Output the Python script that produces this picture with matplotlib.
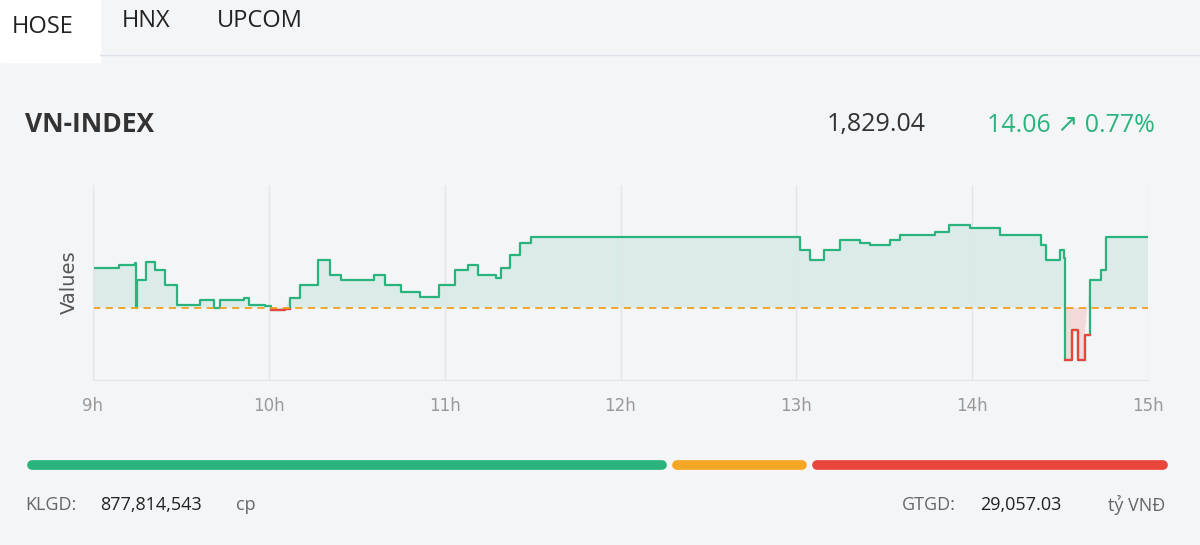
import matplotlib
matplotlib.use("Agg")
import matplotlib.pyplot as plt
import numpy as np

ref = 1814.98
last = 1829.04
change = 14.06
pct = 0.77
hours = [9.00,9.10,9.15,9.24,9.245,9.25,9.30,9.35,9.41,9.48,9.52,9.61,9.69,9.72,9.86,9.89,9.98,10.01,10.09,10.12,
         10.18,10.28,10.35,10.41,10.60,10.66,10.75,10.86,10.93,10.97,11.06,11.13,11.19,11.29,11.32,11.37,11.43,11.49,
         13.00,13.02,13.08,13.16,13.25,13.36,13.42,13.53,13.59,13.79,13.87,13.99,14.16,14.33,14.39,14.42,14.50,14.52,
         14.53,14.57,14.60,14.64,14.67,14.73,14.76,15.00]
values = [1822.9,1822.9,1823.5,1823.9,1815.0,1820.5,1824.1,1822.5,1819.5,1815.6,1815.6,1816.6,1815.0,1816.6,1817.0,1815.6,1815.4,1814.6,1814.8,1817.0,
          1819.5,1824.5,1821.5,1820.5,1821.5,1819.5,1818.1,1817.2,1817.2,1819.5,1822.5,1823.5,1821.5,1820.9,1822.9,1825.5,1827.9,1829.0,
          1829.0,1826.5,1824.5,1826.5,1828.4,1827.9,1827.5,1828.4,1829.4,1830.0,1831.4,1830.8,1829.4,1829.4,1827.5,1824.5,1826.5,1824.9,
          1804.7,1810.6,1804.7,1809.6,1820.5,1822.5,1829.0,1829.0]
xticks = [9,10,11,12,13,14,15]
xlabels = ["9h","10h","11h","12h","13h","14h","15h"]
breadth = [0.563, 0.122, 0.315]  # up / unchanged / down share of bar

bg = "#f4f5f7"
green = "#2bb37e"
red = "#e8453c"
fig = plt.figure(figsize=(12, 5.45), dpi=100, facecolor=bg)

fig.patches.append(plt.Rectangle((0, 1-62/545), 100/1200, 62/545, transform=fig.transFigure, color="white"))
fig.add_artist(plt.Line2D([100/1200, 1], [1-55/545]*2, color="#dde3ea", lw=1))
for x, t in [(12, "HOSE"), (122, "HNX"), (217, "UPCOM")]:
    fig.text(x/1200, 1-(27 if t=="HOSE" else 21)/545, t, fontsize=17, va="center", color="#222", family="Open Sans")
fig.text(25/1200, 1-125/545, "VN-INDEX", fontsize=19, fontweight="bold", va="center", color="#333", family="Open Sans")
fig.text(926/1200, 1-125/545, f"{last:,.2f}", fontsize=18, ha="right", va="center", color="#333", family="Open Sans")
fig.text(1155/1200, 1-125/545, f"{change:.2f} \u2197 {pct:.2f}%", fontsize=18, ha="right", va="center", color=green, family=["Open Sans","DejaVu Sans"])

ax = fig.add_axes([93/1200, 1-380/545, 1055/1200, 195/545], facecolor=bg)
h = np.array(hours); v = np.array(values)
ax.fill_between(h, v, ref, where=v >= ref, interpolate=True, color=green, alpha=0.12, lw=0, step="post")
ax.fill_between(h, v, ref, where=v < ref, interpolate=True, color=red, alpha=0.15, lw=0, step="post")
ax.plot(h, v, color=green, lw=1.6, drawstyle="steps-post")
vr = np.where(v < ref, v, np.nan)
ax.plot(h, vr, color=red, lw=1.6, drawstyle="steps-post")
ax.axhline(ref, color="#f0a020", ls=(0, (4, 3)), lw=1.3)
ax.set_xlim(9, 15)
ax.set_ylim(1800.7, 1839.3)
ax.set_xticks(xticks)
ax.set_xticklabels(xlabels, color="#999", fontsize=12)
ax.tick_params(axis="x", length=0, pad=12)
ax.set_yticks([])
ax.grid(axis="x", color="#e2e4e8", lw=1)
for s in ["top", "right"]:
    ax.spines[s].set_visible(False)
for s in ["left", "bottom"]:
    ax.spines[s].set_color("#e2e4e8")
ax.set_ylabel("Values", fontsize=14, color="#555", labelpad=10)

bx = fig.add_axes([25/1200, 1-471/545, 1145/1200, 12/545])
bx.axis("off"); bx.set_xlim(0, 1); bx.set_ylim(0, 1)
cols = [green, "#f5a623", red]
start = 0
inset = 0.0065
for w, c in zip(breadth, cols):
    bx.plot([start + inset, start + w - inset], [0.5, 0.5], color=c, lw=7,
            solid_capstyle="round")
    start += w

fig.text(25/1200, 1-505/545, "KLGD:", fontsize=13, va="center", color="#666", family="Open Sans")
fig.text(100/1200, 1-505/545, "877,814,543", fontsize=13, va="center", color="#222", family="Open Sans")
fig.text(236/1200, 1-505/545, "cp", fontsize=13, va="center", color="#666", family="Open Sans")
fig.text(902/1200, 1-505/545, "GTGD:", fontsize=13, va="center", color="#666", family="Open Sans")
fig.text(980/1200, 1-505/545, "29,057.03", fontsize=13, va="center", color="#222", family="Open Sans")
fig.text(1165/1200, 1-505/545, "tỷ VNĐ", fontsize=13, ha="right", va="center", color="#666", family="Open Sans")
fig.savefig("out.png", facecolor=bg)
